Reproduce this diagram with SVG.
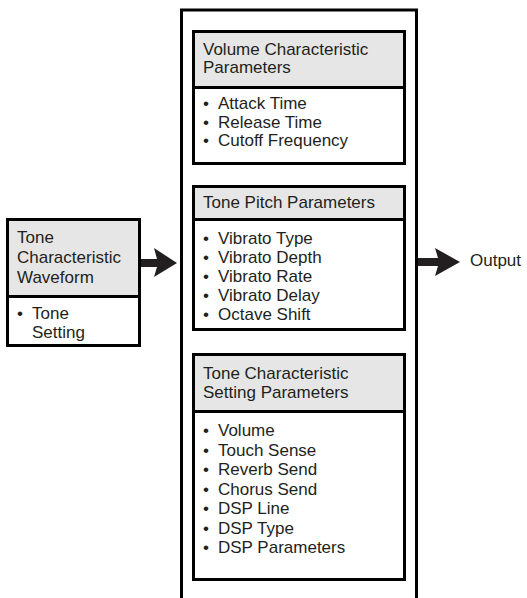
<svg xmlns="http://www.w3.org/2000/svg" width="527" height="598" viewBox="0 0 527 598">
<style>
text{font-family:"Liberation Sans",Arial,sans-serif;font-size:17px;fill:#231f20}
.box{fill:#fff;stroke:#000;stroke-width:3}
.hdr{fill:#e6e6e6;stroke:#000;stroke-width:3}
.frame{fill:none;stroke:#000;stroke-width:3}
.arr{fill:#231f20}
</style>
<rect width="527" height="598" fill="#fff"/>
<g id="frame"><path class="frame" d="M181.5,598 V10 H416.5 V598"/></g>
<g id="waveform">
<rect class="box" x="7.5" y="219.5" width="132" height="126"/>
<rect class="hdr" x="7.5" y="219.5" width="132" height="77"/>
<text x="17" y="243">Tone</text>
<text x="17" y="263">Characteristic</text>
<text x="17" y="283">Waveform</text>
<text x="17" y="319">•<tspan x="32">Tone</tspan></text>
<text x="32" y="338">Setting</text>
</g>
<g id="volume">
<rect class="box" x="193.5" y="31.5" width="211" height="132"/>
<rect class="hdr" x="193.5" y="31.5" width="211" height="56"/>
<text x="203" y="54.5">Volume Characteristic</text>
<text x="203" y="73">Parameters</text>
<text x="203" y="109">•<tspan x="218">Attack Time</tspan></text>
<text x="203" y="127.5">•<tspan x="218">Release Time</tspan></text>
<text x="203" y="146">•<tspan x="218">Cutoff Frequency</tspan></text>
</g>
<g id="pitch">
<rect class="box" x="193.5" y="186.5" width="211" height="143"/>
<rect class="hdr" x="193.5" y="186.5" width="211" height="33"/>
<text x="203" y="208">Tone Pitch Parameters</text>
<text x="203" y="244">•<tspan x="218">Vibrato Type</tspan></text>
<text x="203" y="263">•<tspan x="218">Vibrato Depth</tspan></text>
<text x="203" y="282">•<tspan x="218">Vibrato Rate</tspan></text>
<text x="203" y="301">•<tspan x="218">Vibrato Delay</tspan></text>
<text x="203" y="320">•<tspan x="218">Octave Shift</tspan></text>
</g>
<g id="setting">
<rect class="box" x="193.5" y="354.5" width="211" height="225"/>
<rect class="hdr" x="193.5" y="354.5" width="211" height="57"/>
<text x="203" y="379">Tone Characteristic</text>
<text x="203" y="397.5">Setting Parameters</text>
<text x="203" y="436">•<tspan x="218">Volume</tspan></text>
<text x="203" y="455.5">•<tspan x="218">Touch Sense</tspan></text>
<text x="203" y="475">•<tspan x="218">Reverb Send</tspan></text>
<text x="203" y="494.5">•<tspan x="218">Chorus Send</tspan></text>
<text x="203" y="514">•<tspan x="218">DSP Line</tspan></text>
<text x="203" y="533.5">•<tspan x="218">DSP Type</tspan></text>
<text x="203" y="553">•<tspan x="218">DSP Parameters</tspan></text>
</g>
<g id="output"><text x="470" y="266">Output</text></g>
<g id="connectors">
<path class="arr" d="M141,259 H157 L154,248 L177,263 L154,277 L157,267 H141 Z"/>
<path class="arr" d="M418,258 H438 L435,248 L460,262 L435,276 L438,266 H418 Z"/>
</g>
</svg>
